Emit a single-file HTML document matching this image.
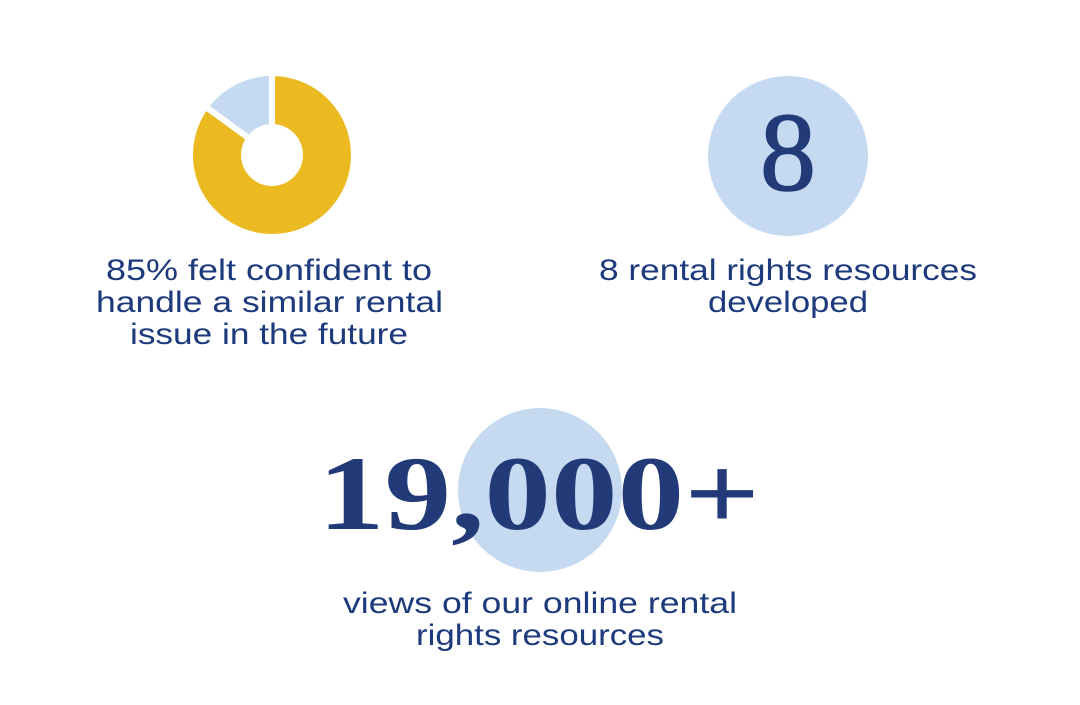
<!DOCTYPE html>
<html><head><meta charset="utf-8"><style>
body{margin:0;width:1080px;height:700px;background:#fff;overflow:hidden;font-family:"Liberation Sans",sans-serif}
</style></head><body>
<svg width="1080" height="700" viewBox="0 0 1080 700">
<g id="donut"></g>
<g font-size="30" fill="#1d3a7c">
<text><tspan x="106" y="280" textLength="326" lengthAdjust="spacingAndGlyphs">85% felt confident to</tspan><tspan x="96" y="312" textLength="347" lengthAdjust="spacingAndGlyphs">handle a similar rental</tspan><tspan x="130" y="344" textLength="278" lengthAdjust="spacingAndGlyphs">issue in the future</tspan></text>
<text><tspan x="599" y="280" textLength="378" lengthAdjust="spacingAndGlyphs">8 rental rights resources</tspan><tspan x="708" y="312" textLength="160" lengthAdjust="spacingAndGlyphs">developed</tspan></text>
<text><tspan x="343" y="613" textLength="394" lengthAdjust="spacingAndGlyphs">views of our online rental</tspan><tspan x="416" y="645" textLength="248" lengthAdjust="spacingAndGlyphs">rights resources</tspan></text>
</g>
<circle cx="788" cy="156" r="80" fill="#c5daf0"/>
<text x="788" y="190" text-anchor="middle" font-family="Liberation Serif,serif" font-size="112" fill="#233a78" stroke="#233a78" stroke-width="1.5">8</text>
<circle cx="540" cy="490" r="82" fill="#c5daf0"/>
<text x="318" y="529" font-family="Liberation Serif,serif" font-weight="bold" font-size="106" fill="#233a78" textLength="442" lengthAdjust="spacingAndGlyphs">19,000+</text>
</svg>
<script>
const labels=["Confident","Not confident"];
const values=[85,15];
const colors=["#ebba20","#c5daf0"];
const g=document.getElementById('donut');
const cx=272,cy=155,R=82,r=28;
const total=values.reduce((a,b)=>a+b,0);
let a0=0;
function pt(rad,a){return [cx+rad*Math.sin(a),cy-rad*Math.cos(a)];}
values.forEach((v,i)=>{
  const a1=a0+v/total*2*Math.PI;
  const large=(a1-a0)>Math.PI?1:0;
  const p1=pt(R,a0),p2=pt(R,a1),p3=pt(r,a1),p4=pt(r,a0);
  const p=document.createElementNS('http://www.w3.org/2000/svg','path');
  p.setAttribute('d',`M${p1}A${R},${R} 0 ${large} 1 ${p2}L${p3}A${r},${r} 0 ${large} 0 ${p4}Z`);
  p.setAttribute('fill',colors[i]);
  p.setAttribute('stroke','#fff');
  p.setAttribute('stroke-width','6');
  
  
  g.appendChild(p);
  a0=a1;
});
</script>
</body></html>
